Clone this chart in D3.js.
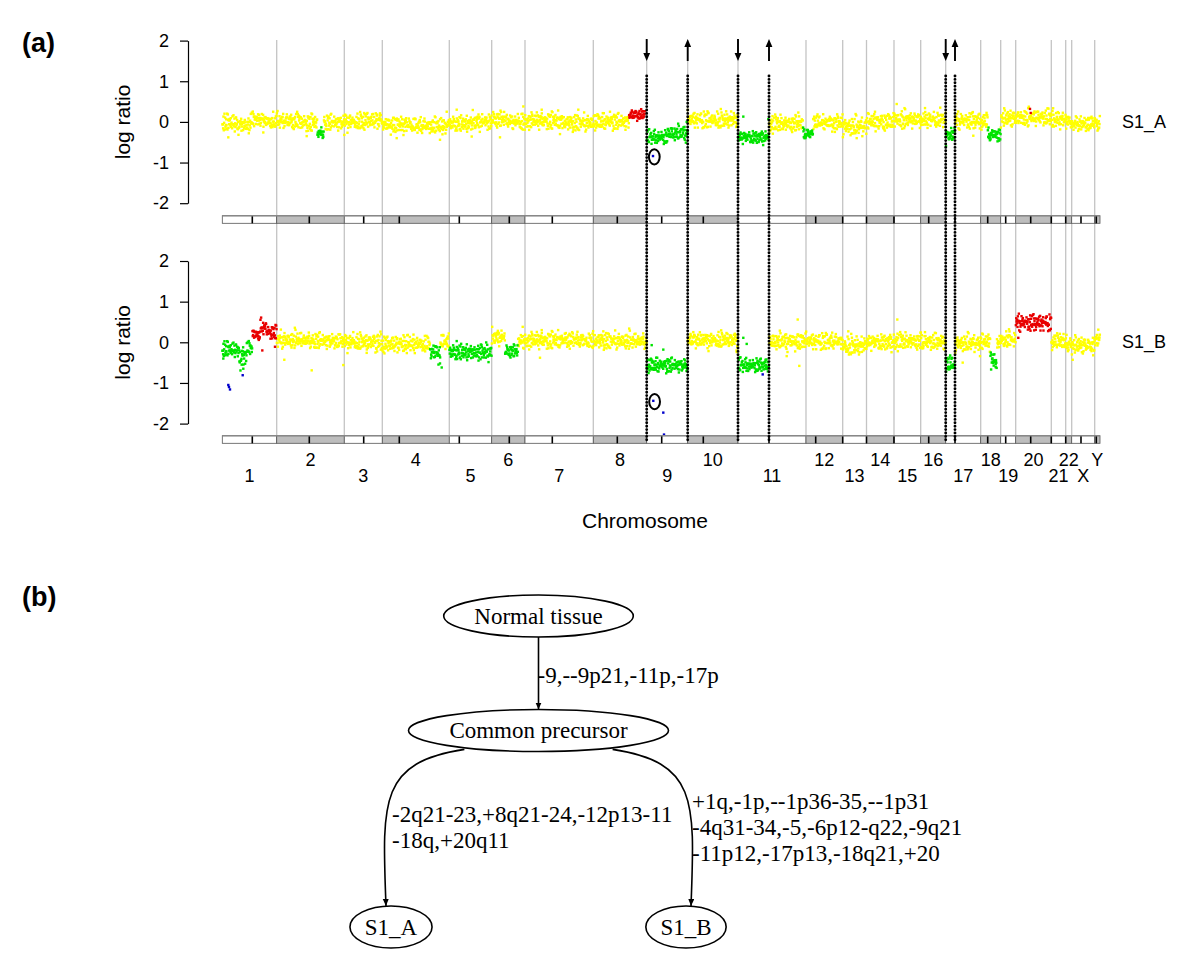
<!DOCTYPE html>
<html>
<head>
<meta charset="utf-8">
<title>aCGH profiles and tree</title>
<script src="https://cdn.jsdelivr.net/npm/d3@7"></script>
<style>
body { margin: 0; background: #fff; }
</style>
</head>
<body>
<script>

// ---- chromosome layout (position along the array, clone-order units)
var chromNames = ["1","2","3","4","5","6","7","8","9","10","11","12","13","14","15","16","17","18","19","20","21","22","X","Y"];
var chromStart = [0,54.4,122,160,227,269.4,302.7,371,424.4,465.4,515.7,583.7,620.4,644.2,671.7,698.4,723.4,758.4,778.4,793.4,829,843.4,849.4,872.4];
var genomeEnd = 877.7;
var centromeres = [30,87,141.4,177,237,287,330,395,439.4,481,546.7,593.4,620.4,644.2,671.7,706.4,732.7,765.4,783.4,808.4,829,843.4,858.7,874];
var logTicks = [-2,-1,0,1,2];

// ---- segments: [from, to, level, spread, call]  (Y = normal, G = loss, R = gain, B = deep loss)
var segA = [
  [0,15,-0.03,0.09,"Y"],[15,28,-0.08,0.09,"Y"],[28,42,0.05,0.09,"Y"],[42,54.4,0.0,0.09,"Y"],
  [54.4,80,0.02,0.09,"Y"],[80,95,-0.02,0.09,"Y"],[95,101.5,-0.28,0.05,"G"],[101.5,122,-0.02,0.09,"Y"],
  [122,140,0.0,0.09,"Y"],[140,160,0.03,0.09,"Y"],
  [160,190,-0.07,0.09,"Y"],[190,227,-0.1,0.09,"Y"],
  [227,250,-0.05,0.09,"Y"],[250,269.4,0.0,0.09,"Y"],
  [269.4,285,0.06,0.09,"Y"],[285,302.7,0.0,0.09,"Y"],
  [302.7,340,0.03,0.09,"Y"],[340,371,-0.03,0.09,"Y"],
  [371,406.7,0.0,0.09,"Y"],[406.7,422.7,0.17,0.065,"R"],
  [424.4,445,-0.38,0.08,"G"],[445,465.4,-0.28,0.08,"G"],
  [465.4,490,0.05,0.09,"Y"],[490,515.7,0.04,0.09,"Y"],
  [515.7,546.7,-0.38,0.07,"G"],[546.7,580.7,-0.05,0.09,"Y"],
  [580.7,590.7,-0.3,0.06,"G"],[590.7,620.4,-0.02,0.09,"Y"],
  [620.4,644.2,-0.12,0.1,"Y"],
  [644.2,671.7,0.0,0.09,"Y"],
  [671.7,698.4,0.05,0.09,"Y"],
  [698.4,723.4,0.05,0.09,"Y"],
  [723.4,732.7,-0.32,0.07,"G"],[732.7,758.4,0.03,0.09,"Y"],
  [758.4,765.4,0.02,0.09,"Y"],[765.4,778.4,-0.32,0.07,"G"],
  [778.4,793.4,0.08,0.09,"Y"],
  [793.4,829,0.1,0.09,"Y"],
  [829,843.4,0.05,0.09,"Y"],
  [843.4,849.4,0.0,0.09,"Y"],
  [849.4,872.4,-0.05,0.09,"Y"],
  [872.4,877.7,-0.05,0.09,"Y"]
];

var segB = [
  [0,17,-0.18,0.08,"G"],[17,24,-0.35,0.13,"G"],[24,30,-0.15,0.08,"G"],
  [30,38,0.18,0.08,"R"],[38,44,0.36,0.09,"R"],[44,54.4,0.25,0.07,"R"],
  [54.4,90,0.05,0.09,"Y"],[90,122,0.03,0.09,"Y"],
  [122,160,0.0,0.09,"Y"],
  [160,207.7,-0.05,0.09,"Y"],[207.7,218,-0.25,0.11,"G"],[218,227,0.0,0.09,"Y"],
  [227,269.4,-0.25,0.09,"G"],
  [269.4,282.7,0.12,0.08,"Y"],[282.7,295.7,-0.22,0.07,"G"],[295.7,302.7,0.02,0.09,"Y"],
  [302.7,371,0.05,0.09,"Y"],
  [371,424.4,0.03,0.09,"Y"],
  [424.4,465.4,-0.57,0.08,"G"],
  [465.4,515.7,0.05,0.09,"Y"],
  [515.7,546.7,-0.57,0.08,"G"],[546.7,583.7,0.02,0.09,"Y"],
  [583.7,620.4,0.02,0.09,"Y"],
  [620.4,644.2,-0.1,0.1,"Y"],
  [644.2,671.7,0.0,0.09,"Y"],
  [671.7,698.4,0.02,0.09,"Y"],
  [698.4,723.4,0.0,0.09,"Y"],
  [723.4,732.7,-0.55,0.1,"G"],[732.7,758.4,-0.03,0.09,"Y"],
  [758.4,768,0.0,0.09,"Y"],[768,774.5,-0.45,0.12,"G"],[774.5,778.4,0.0,0.09,"Y"],
  [778.4,793.4,0.05,0.09,"Y"],
  [793.4,829,0.48,0.09,"R"],
  [829,843.4,0.02,0.09,"Y"],
  [843.4,849.4,-0.05,0.09,"Y"],
  [849.4,872.4,-0.08,0.09,"Y"],
  [872.4,877.7,0.05,0.09,"Y"]
];

// ---- single clones off the segment clouds: [position, log ratio, call]
var clonesA = [
  [6,-0.38,"Y"],[41,-0.26,"Y"],[84.4,-0.35,"Y"],[122,-0.32,"Y"],[157.7,0.21,"Y"],[174.4,-0.4,"Y"],
  [217.7,-0.44,"Y"],[224.4,0.25,"Y"],[234.4,0.3,"Y"],[249.4,-0.36,"Y"],[277.7,-0.38,"Y"],[301,0.38,"Y"],
  [319.4,0.3,"Y"],[337.7,-0.3,"Y"],[356,0.3,"Y"],[387.7,0.25,"Y"],[576,0.23,"Y"],[652.7,0.25,"Y"],
  [674.4,0.44,"Y"],[702.7,0.34,"Y"],[751,-0.34,"Y"],[634.4,-0.4,"Y"],
  [521,0.13,"G"],[546,0.07,"G"],[723.7,-0.6,"G"],[464.4,0.0,"G"],
  [807.7,0.32,"R"],[808.4,0.22,"R"],
  [430.7,-0.84,"B"]
];
var clonesB = [
  [62,-0.43,"Y"],[89.4,-0.69,"Y"],[121,-0.56,"Y"],[131,0.25,"Y"],[144.4,-0.26,"Y"],
  [217.7,-0.52,"G"],[219.4,-0.62,"G"],[234.4,0.03,"G"],
  [300.4,0.38,"Y"],[317.7,-0.38,"Y"],[319.4,0.3,"Y"],[381,0.27,"Y"],
  [40,-0.2,"R"],[52.7,-0.11,"R"],
  [6,-1.05,"B"],[6.7,-1.1,"B"],[7.7,-1.16,"B"],[20.4,-0.81,"B"],
  [21,-0.65,"G"],[19.4,-0.55,"G"],[1,-0.4,"G"],
  [431,-1.44,"B"],[441,-1.73,"B"],[441.7,-2.27,"B"],[540.4,-0.79,"B"],
  [429.4,-0.07,"G"],[441,-0.18,"G"],[521,0.11,"G"],[524.4,-0.04,"G"],
  [471,0.25,"Y"],[514.4,-0.24,"Y"],[575.4,0.56,"Y"],[577,-0.58,"Y"],[564.4,-0.34,"Y"],
  [675,0.56,"Y"],[626,0.27,"Y"],[702.7,0.25,"Y"],[740.4,-0.5,"Y"],[757.7,-0.34,"Y"],
  [786.7,0.32,"Y"],[796,0.11,"R"],[850.4,-0.43,"Y"],[876,0.31,"Y"],
  [773.4,-0.54,"G"],[773.4,-0.46,"G"]
];

// scatter of clones around a segment level (standardised residuals)
var residuals = [0.31,-1.22,0.84,-0.41,1.63,-0.92,0.12,-1.78,1.07,0.52,
  -0.18,-1.41,2.08,-0.69,0.93,-0.07,1.31,-1.02,0.38,-2.21,
  0.71,-0.53,1.79,-0.29,0.22,-1.12,0.98,-0.61,2.37,-1.49,
  0.58,-0.81,0.03,1.42,-1.33,0.34,-0.24,1.17,-1.67,0.56,
  -0.46,1.92,-0.96,0.16,-2.02,0.86,-0.14,1.24,-0.74,0.44,
  -1.36,1.51,-0.04,-1.06,0.66,2.55,-0.57,0.26,-1.88,1.04,-0.33];

// breakpoints shared by both samples
var breakpoints = [424.4, 465.4, 515.7, 546.7, 723.4, 732.7];
var breakDir = ["down","up","down","up","down","up"];
var circledA = [430.7, -0.84];
var circledB = [431, -1.44];

// ---- tree (b)
var treeData = {name: "Normal tissue", children: [
  {name: "Common precursor", children: [{name: "S1_A"}, {name: "S1_B"}]}
]};
var edgeLabels = {
  "Common precursor": ["-9,--9p21,-11p,-17p"],
  "S1_A": ["-2q21-23,+8q21-24,-12p13-11", "-18q,+20q11"],
  "S1_B": ["+1q,-1p,--1p36-35,--1p31", "-4q31-34,-5,-6p12-q22,-9q21", "-11p12,-17p13,-18q21,+20"]
};

var colourOf = {Y: "#ffff00", G: "#00e400", R: "#e80000", B: "#0000cc"};
var sans = "'Liberation Sans', Arial, Helvetica, sans-serif";
var serif = "'Liberation Serif', 'Times New Roman', serif";

var svg = d3.select("body").append("svg")
  .attr("width", 1200)
  .attr("height", 973);

var x = d3.scaleLinear().domain([0, genomeEnd]).range([222.3, 1100]);

var panels = [
  {segs: segA, clones: clonesA, label: "S1_A", stripY: 215.7, circ: circledA,
   y: d3.scaleLinear().domain([-2, 2]).range([203.2, 40.6])},
  {segs: segB, clones: clonesB, label: "S1_B", stripY: 435.7, circ: circledB,
   y: d3.scaleLinear().domain([-2, 2]).range([423.6, 261])}
];

function segmentClones(segs, density) {
  var out = [];
  var n0 = residuals.length;
  segs.forEach(function(s, si) {
    var n = Math.max(1, Math.round((s[1] - s[0]) * density));
    for (var i = 0; i < n; i++) {
      var r1 = residuals[(i * 17 + si * 29) % n0];
      var r2 = residuals[(i * 5 + Math.floor(i / n0) * 7 + si * 3 + 11) % n0];
      out.push({pos: s[0] + (i + 0.5) * (s[1] - s[0]) / n,
                val: s[2] + s[3] * (r1 + 0.5 * r2) / 1.12,
                c: s[4]});
    }
  });
  return out;
}

// chromosome boundary lines (through both panels)
svg.append("g").selectAll("line")
  .data(chromStart.slice(1))
  .enter().append("line")
  .attr("x1", function(d){ return x(d); })
  .attr("x2", function(d){ return x(d); })
  .attr("y1", 40).attr("y2", 437)
  .attr("stroke", "#c4c4c4")
  .attr("stroke-width", 1.3);

panels.forEach(function(p) {
  var g = svg.append("g");
  var pts = segmentClones(p.segs, 3).concat(p.clones.map(function(c){
    return {pos: c[0], val: c[1], c: c[2]};
  }));
  // draw normal first so calls sit on top
  var order = {Y: 0, G: 1, R: 1, B: 2};
  pts.sort(function(a, b){ return order[a.c] - order[b.c]; });

  g.selectAll("rect.clone")
    .data(pts)
    .enter().append("rect")
    .attr("class", "clone")
    .attr("x", function(d){ return x(d.pos) - 1.2; })
    .attr("y", function(d){ return p.y(d.val) - 1.2; })
    .attr("width", 2.4).attr("height", 2.4)
    .attr("fill", function(d){ return colourOf[d.c]; });

  // axis
  var ax = g.append("g")
    .attr("transform", "translate(188,0)")
    .call(d3.axisLeft(p.y).tickValues(logTicks).tickFormat(function(d){ return String(d); })
      .tickSize(8).tickSizeOuter(0).tickPadding(11));
  ax.selectAll("text").style("font-family", sans).style("font-size", "18px").attr("fill", "#000");
  ax.selectAll("path, line").attr("stroke", "#000").attr("stroke-width", 1.2);

  g.append("text")
    .attr("transform", "translate(130," + p.y(0) + ") rotate(-90)")
    .attr("text-anchor", "middle")
    .style("font-family", sans).style("font-size", "21px")
    .text("log ratio");

  g.append("text")
    .attr("x", 1122).attr("y", p.y(0) + 6)
    .style("font-family", sans).style("font-size", "18px")
    .text(p.label);

  // circled single clone
  g.append("ellipse")
    .attr("cx", x(p.circ[0]) + 1.3).attr("cy", p.y(p.circ[1]) + 0.8)
    .attr("rx", 5.4).attr("ry", 7.6)
    .attr("fill", "none").attr("stroke", "#000").attr("stroke-width", 2);

  // chromosome strip
  var strip = g.append("g");
  strip.selectAll("rect")
    .data(chromNames)
    .enter().append("rect")
    .attr("x", function(d, i){ return x(chromStart[i]); })
    .attr("width", function(d, i){ return x(i < 23 ? chromStart[i + 1] : genomeEnd) - x(chromStart[i]); })
    .attr("y", p.stripY).attr("height", 7.6)
    .attr("fill", function(d, i){ return i % 2 ? "#bdbdbd" : "#fff"; })
    .attr("stroke", "#555").attr("stroke-width", 0.8);
  strip.selectAll("line.cen")
    .data(centromeres)
    .enter().append("line")
    .attr("class", "cen")
    .attr("x1", function(d){ return x(d); }).attr("x2", function(d){ return x(d); })
    .attr("y1", p.stripY).attr("y2", p.stripY + 7.6)
    .attr("stroke", "#000").attr("stroke-width", 1.6);
  strip.append("line")
    .attr("x1", x(0)).attr("x2", x(genomeEnd))
    .attr("y1", p.stripY).attr("y2", p.stripY)
    .attr("stroke", "#888").attr("stroke-width", 1.6);
});

// breakpoint dotted lines and arrows
var bk = svg.append("g");
bk.selectAll("line.dot")
  .data(breakpoints)
  .enter().append("line")
  .attr("class", "dot")
  .attr("x1", function(d){ return x(d); }).attr("x2", function(d){ return x(d); })
  .attr("y1", 76).attr("y2", 441)
  .attr("stroke", "#000").attr("stroke-width", 2.9)
  .attr("stroke-linecap", "round")
  .attr("stroke-dasharray", "0,3.4");

breakpoints.forEach(function(b, i) {
  var bx = x(b);
  var down = breakDir[i] === "down";
  bk.append("line")
    .attr("x1", bx).attr("x2", bx)
    .attr("y1", down ? 39 : 46).attr("y2", down ? 54 : 61)
    .attr("stroke", "#000").attr("stroke-width", 1.9);
  bk.append("path")
    .attr("d", down
      ? "M" + (bx - 3.4) + ",53 L" + (bx + 3.4) + ",53 L" + bx + ",61 Z"
      : "M" + (bx - 3.4) + ",47 L" + (bx + 3.4) + ",47 L" + bx + ",39 Z")
    .attr("fill", "#000");
});

// chromosome labels
svg.append("g").selectAll("text")
  .data(chromNames)
  .enter().append("text")
  .attr("x", function(d, i){ return x(((i < 23 ? chromStart[i + 1] : genomeEnd) + chromStart[i]) / 2); })
  .attr("y", function(d, i){ return i % 2 ? 466 : 482; })
  .attr("text-anchor", "middle")
  .style("font-family", sans).style("font-size", "18px")
  .text(function(d){ return d; });

svg.append("text")
  .attr("x", 645).attr("y", 528)
  .attr("text-anchor", "middle")
  .style("font-family", sans).style("font-size", "21px")
  .text("Chromosome");

svg.append("text").attr("x", 22).attr("y", 52)
  .style("font-family", sans).style("font-size", "27px").style("font-weight", "bold")
  .text("(a)");
svg.append("text").attr("x", 22).attr("y", 606)
  .style("font-family", sans).style("font-size", "27px").style("font-weight", "bold")
  .text("(b)");

// ---- tree (b)
var root = d3.hierarchy(treeData);
d3.tree().size([1, 2])(root);
var tx = d3.scaleLinear().domain(d3.extent(root.leaves(), function(d){ return d.x; })).range([391, 686]);
var ty = d3.scaleLinear().domain([0, 1, 2]).range([616, 730.5, 927]);

svg.append("defs").append("marker")
  .attr("id", "arr")
  .attr("markerUnits", "userSpaceOnUse")
  .attr("markerWidth", 8).attr("markerHeight", 8)
  .attr("refX", 7).attr("refY", 3)
  .attr("orient", "auto")
  .append("path").attr("d", "M0,0 L7,3 L0,6 Z").attr("fill", "#000");

var tg = svg.append("g");
root.descendants().forEach(function(n) {
  var ng = tg.append("g");
  var t = ng.append("text")
    .attr("x", tx(n.x)).attr("y", ty(n.y) + 7.5)
    .attr("text-anchor", "middle")
    .style("font-family", serif).style("font-size", "23px")
    .text(n.data.name);
  var w = t.node().getComputedTextLength();
  n.rx = w / 2 * 1.414 + 4;
  n.ry = 21;
  ng.insert("ellipse", "text")
    .attr("cx", tx(n.x)).attr("cy", ty(n.y))
    .attr("rx", n.rx).attr("ry", n.ry)
    .attr("fill", "none").attr("stroke", "#000").attr("stroke-width", 1.6);
});

root.links().forEach(function(l) {
  var s = l.source, t = l.target;
  var sx = tx(s.x), sy = ty(s.y), ex = tx(t.x), ey = ty(t.y) - t.ry;
  var lines = edgeLabels[t.data.name];
  var d, lx, ly0;
  if (s.x === t.x) {
    d = "M" + sx + "," + (sy + s.ry) + " L" + ex + "," + ey;
    lx = sx - 1;
    ly0 = (sy + s.ry + ey) / 2 + 10;
  } else {
    var dir = t.x < s.x ? -1 : 1;
    var x0 = sx + dir * 0.57 * s.rx, y0 = sy + 0.9 * s.ry;
    ex = ex + dir * 5;
    d = "M" + x0 + "," + y0 +
        " C" + (x0 + dir * 85) + "," + (y0 + 13) + " " + (ex + dir * 4) + "," + (y0 + 51) + " " + ex + "," + ey;
    lx = dir < 0 ? tx(t.x) + 1 : tx(t.x) + 6;
    ly0 = (y0 + ey) / 2 + 7 - (lines.length - 1) * 13;
  }
  tg.append("path")
    .attr("d", d)
    .attr("fill", "none").attr("stroke", "#000").attr("stroke-width", 1.6)
    .attr("marker-end", "url(#arr)");
  lines.forEach(function(txt, k) {
    tg.append("text")
      .attr("x", lx).attr("y", ly0 + k * 26)
      .style("font-family", serif).style("font-size", "23px")
      .text(txt);
  });
});

</script>
</body>
</html>
